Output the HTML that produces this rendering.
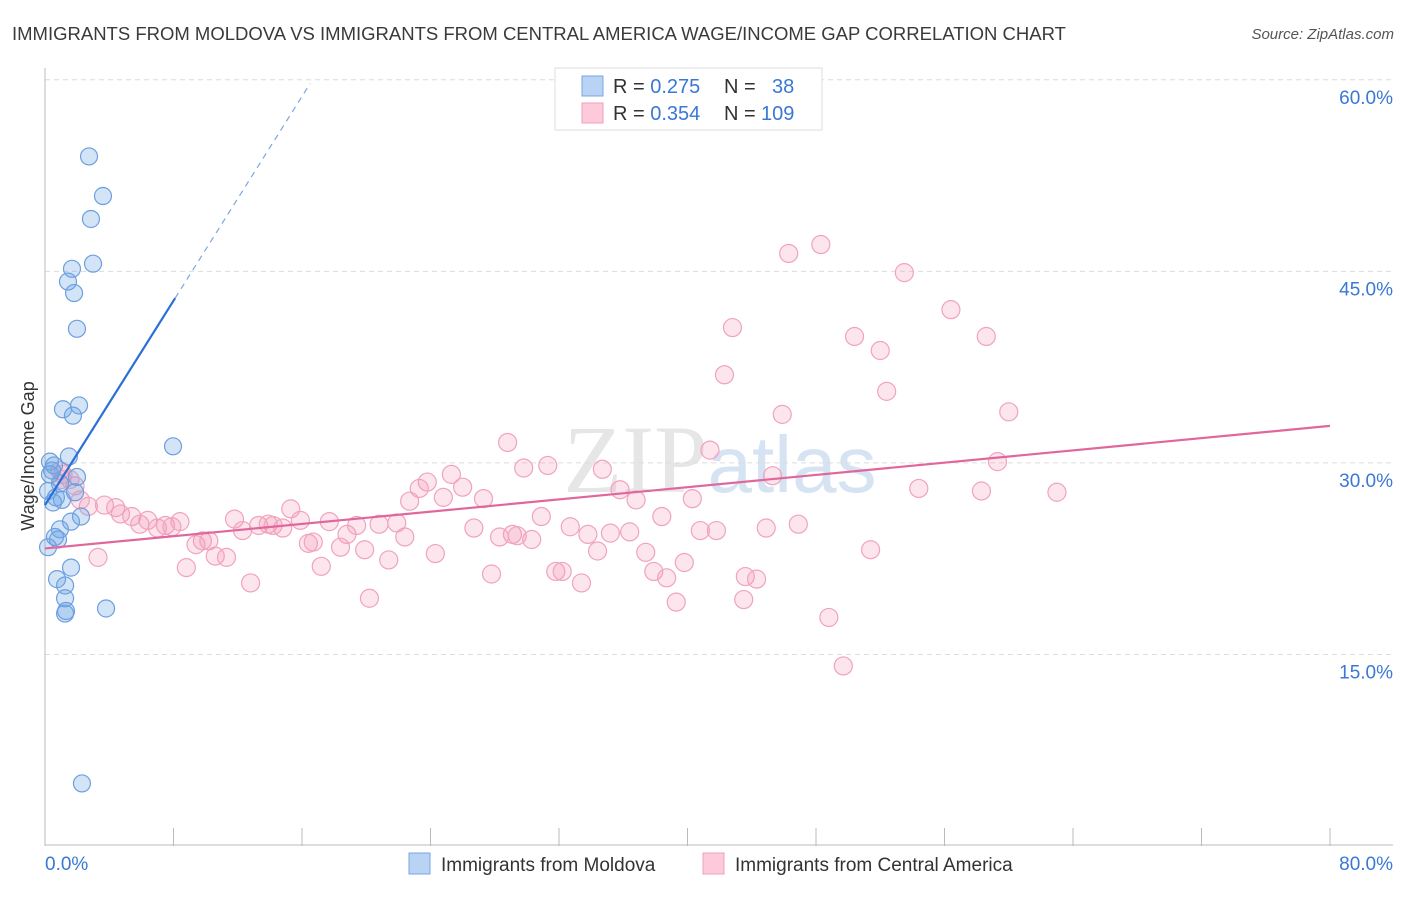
<!DOCTYPE html>
<html><head><meta charset="utf-8"><style>
body{margin:0;background:#fff;font-family:"Liberation Sans",sans-serif}
</style></head><body>
<svg width="1406" height="892" xmlns="http://www.w3.org/2000/svg" font-family="Liberation Sans, sans-serif">
<text x="12" y="40" font-size="18.5" fill="#3a3a3a">IMMIGRANTS FROM MOLDOVA VS IMMIGRANTS FROM CENTRAL AMERICA WAGE/INCOME GAP CORRELATION CHART</text>
<text x="1394" y="39" font-size="15" font-style="italic" fill="#555" text-anchor="end">Source: ZipAtlas.com</text>
<text x="720" y="492" font-size="96" fill="#e6e6e6" text-anchor="middle" font-family="Liberation Serif, serif">ZIP<tspan fill="#d6e3f3" font-family="Liberation Sans, sans-serif" font-size="80">atlas</tspan></text>
<g id="grid"></g>
<g id="axes"></g>
<g id="marks"></g>
<text transform="translate(34,456) rotate(-90)" font-size="18" fill="#333" text-anchor="middle">Wage/Income Gap</text>
<g>
<rect x="555" y="68" width="267" height="62" fill="#fff" stroke="#ddd"/>
<rect x="582" y="76" width="21" height="20" fill="#b9d3f5" stroke="#7aa6e3"/>
<rect x="582" y="103" width="21" height="20" fill="#fccadb" stroke="#f0a0b8"/>
<text x="613" y="93" font-size="20" fill="#333">R = <tspan fill="#3a78d4">0.275</tspan><tspan x="724">N = </tspan><tspan x="772" fill="#3a78d4">38</tspan></text>
<text x="613" y="120" font-size="20" fill="#333">R = <tspan fill="#3a78d4">0.354</tspan><tspan x="724">N = </tspan><tspan x="761" fill="#3a78d4">109</tspan></text>
</g>
<g>
<rect x="409" y="853" width="21" height="21" fill="#b9d3f5" stroke="#7aa6e3"/>
<text x="441" y="871" font-size="19" fill="#333">Immigrants from Moldova</text>
<rect x="703" y="853" width="21" height="21" fill="#fccadb" stroke="#f0a0b8"/>
<text x="735" y="871" font-size="19" fill="#333">Immigrants from Central America</text>
</g>
</svg>
<script>
const yTicks=[15,30,45,60];
const xTickCount=10;
const blueX=[2.74,3.61,2.86,1.68,2.99,1.43,1.81,1.99,2.12,1.12,1.74,7.97,1.49,0.31,0.44,1.99,0.93,0.19,0.68,0.5,1.06,2.24,1.62,0.93,0.62,0.81,0.19,1.62,0.75,1.25,1.25,1.31,1.25,3.8,2.3,1.87,0.31,0.56];
const blueY=[54.0,50.9,49.1,45.2,45.6,44.2,43.3,40.5,34.5,34.2,33.7,31.3,30.5,30.1,29.4,28.9,28.4,27.8,27.3,26.9,27.1,25.8,25.4,24.8,24.2,24.0,23.4,21.8,20.9,20.4,19.4,18.4,18.2,18.6,4.9,27.7,29.1,29.8];
const pinkX=[48.3,46.3,53.5,56.4,42.8,50.4,58.6,52.0,42.3,52.4,45.9,60.0,28.8,41.4,59.3,29.8,31.3,34.7,45.3,25.3,23.8,26.0,23.3,35.8,54.4,58.3,63.0,24.8,36.8,40.3,27.3,22.7,15.3,2.7,3.7,4.4,4.7,5.4,5.9,6.4,7.0,7.5,7.9,8.4,11.8,12.3,13.3,13.9,14.2,14.8,15.9,17.7,18.8,19.4,20.8,21.9,22.4,26.7,30.9,29.1,32.7,33.8,35.2,36.4,38.4,40.8,41.8,44.9,46.9,16.4,16.7,18.4,19.9,9.4,9.8,10.2,10.6,11.3,3.3,8.8,12.8,17.2,21.4,24.3,28.3,29.4,30.3,34.4,37.4,39.8,37.9,31.8,32.2,38.7,27.8,33.4,43.6,44.3,20.2,39.3,43.5,48.8,51.4,49.7,0.93,1.12,1.87,1.06,2.2,1.56];
const pinkY=[47.1,46.4,44.9,42.0,40.6,39.9,39.9,38.8,36.9,35.6,33.8,34.0,31.6,31.0,30.1,29.6,29.8,29.5,29.0,29.1,28.5,28.1,28.0,27.9,28.0,27.8,27.7,27.3,27.1,27.2,27.2,27.0,26.4,26.6,26.7,26.5,26.0,25.8,25.2,25.5,24.9,25.1,25.0,25.4,25.6,24.7,25.1,25.2,25.1,24.9,25.5,25.4,24.4,25.1,25.2,25.3,24.2,24.9,25.8,24.4,25.0,24.4,24.5,24.6,25.8,24.7,24.7,24.9,25.2,23.7,23.8,23.4,23.2,23.6,23.9,23.9,22.7,22.6,22.6,21.8,20.6,21.9,22.4,22.9,24.2,24.3,24.0,23.1,23.0,22.2,21.5,21.5,21.5,21.0,21.3,20.6,21.1,20.9,19.4,19.1,19.3,17.9,23.2,14.1,29.4,29.1,28.2,28.7,27.1,28.7];
const blueTrend=[0,26.7,8.1,42.9,16.5,59.7];
const pinkTrend=[0,23.3,80,32.9];

const NS='http://www.w3.org/2000/svg';
const X0=45,X1=1330,Y0=846,PXPER=12.77;
function sx(v){return X0+v/80*(X1-X0);}
function sy(v){return Y0-v*PXPER;}
function mk(tag,attrs,parent){const e=document.createElementNS(NS,tag);for(const k in attrs)e.setAttribute(k,attrs[k]);parent.appendChild(e);return e;}
const grid=document.getElementById('grid'),axes=document.getElementById('axes'),marks=document.getElementById('marks');
yTicks.forEach(t=>{
  const l=mk('line',{x1:X0,x2:1393,y1:sy(t),y2:sy(t),stroke:'#dcdcdc','stroke-dasharray':'5,4'},grid);
  
  
  const tx=mk('text',{x:1393,y:sy(t)+24,'font-size':19,fill:'#3a78d4','text-anchor':'end'},axes);
  tx.textContent=t.toFixed(1)+'%';
  
  
});
mk('line',{x1:X0,x2:1393,y1:Y0-1,y2:Y0-1,stroke:'#bbb'},axes);
mk('line',{x1:X0,x2:X0,y1:68,y2:Y0,stroke:'#bbb'},axes);
for(let i=1;i<=xTickCount;i++){
  const v=i*80/xTickCount;
  const t=mk('line',{x1:sx(v),x2:sx(v),y1:828,y2:Y0,stroke:'#bbb'},axes);
  
  
}
const xl0=mk('text',{x:45,y:870,'font-size':19,fill:'#3a78d4'},axes);xl0.textContent='0.0%';


const xl1=mk('text',{x:1393,y:870,'font-size':19,fill:'#3a78d4','text-anchor':'end'},axes);xl1.textContent='80.0%';



pinkX.forEach((x,i)=>{
  const c=mk('circle',{cx:sx(x),cy:sy(pinkY[i]),r:9,fill:'rgba(244,150,180,0.25)',stroke:'#f1a3bc','stroke-width':1.2},marks);
  
  
});
blueX.forEach((x,i)=>{
  const c=mk('circle',{cx:sx(x),cy:sy(blueY[i]),r:8.5,fill:'rgba(110,165,230,0.3)',stroke:'#6d9fe0','stroke-width':1.2},marks);
  
  
});
const bl=mk('line',{x1:sx(blueTrend[0]),y1:sy(blueTrend[1]),x2:sx(blueTrend[2]),y2:sy(blueTrend[3]),stroke:'#2a6fd6','stroke-width':2.2},marks);


const bd=mk('line',{x1:sx(blueTrend[2]),y1:sy(blueTrend[3]),x2:sx(blueTrend[4]),y2:sy(blueTrend[5]),stroke:'#7aa6e3','stroke-width':1.2,'stroke-dasharray':'6,5'},marks);


const pl=mk('line',{x1:sx(pinkTrend[0]),y1:sy(pinkTrend[1]),x2:sx(pinkTrend[2]),y2:sy(pinkTrend[3]),stroke:'#e0679a','stroke-width':2.2},marks);


</script>
</body></html>
